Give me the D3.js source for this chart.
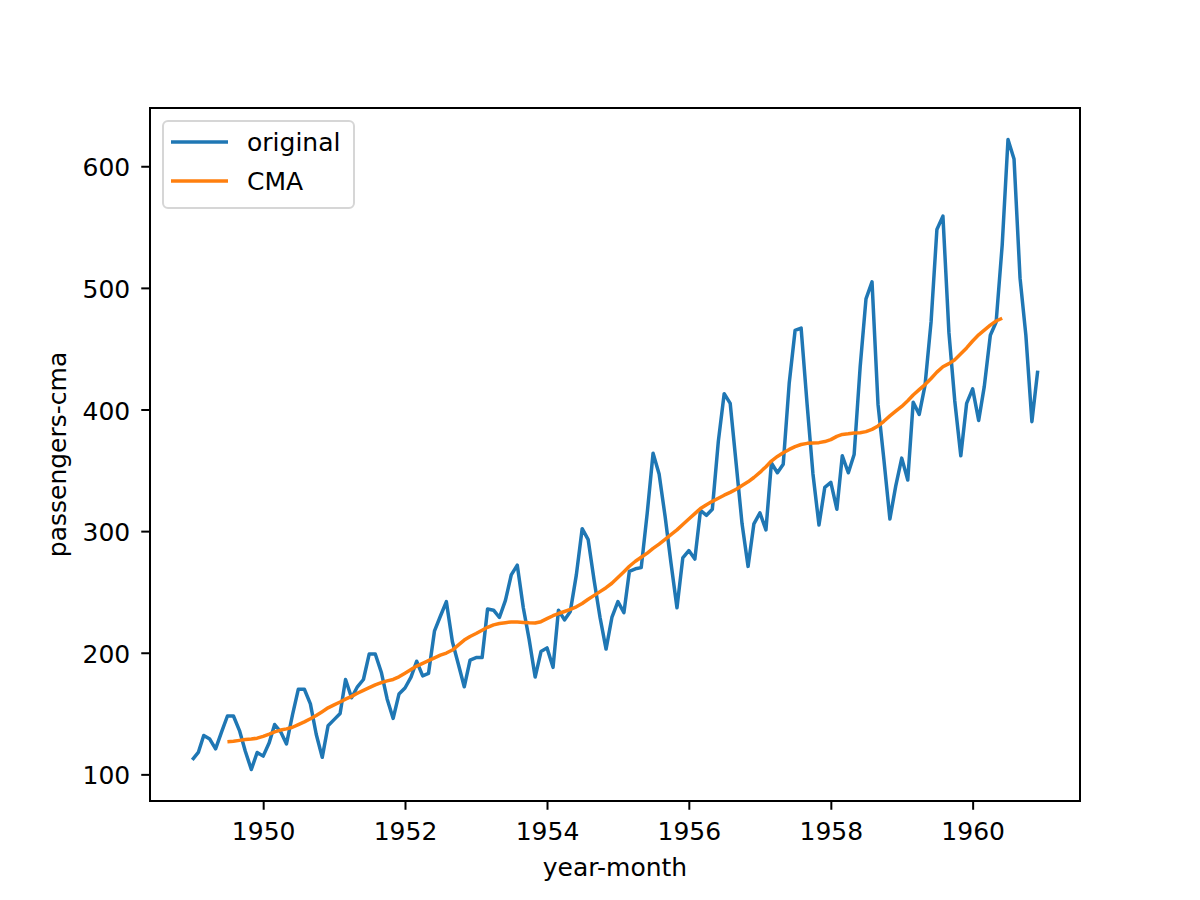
<!DOCTYPE html>
<html>
<head>
<meta charset="utf-8">
<script src="https://cdn.jsdelivr.net/npm/d3@7"></script>
<style>
body{margin:0;background:#fff;}
svg{display:block;font-family:"DejaVu Sans",sans-serif;}
</style>
</head>
<body>
<svg id="graph"></svg>
<script>
// monthly passengers, Jan 1949 .. Dec 1960
var original=[112,118,132,129,121,135,148,148,136,119,104,118,
115,126,141,135,125,149,170,170,158,133,114,140,
145,150,178,163,172,178,199,199,184,162,146,166,
171,180,193,181,183,218,230,242,209,191,172,194,
196,196,236,235,229,243,264,272,237,211,180,201,
204,188,235,227,234,264,302,293,259,229,203,229,
242,233,267,269,270,315,364,347,312,274,237,278,
284,277,317,313,318,374,413,405,355,306,271,306,
315,301,356,348,355,422,465,467,404,347,305,336,
340,318,362,348,363,435,491,505,404,359,310,337,
360,342,406,396,420,472,548,559,463,407,362,405,
417,391,419,461,472,535,622,606,508,461,390,432]

// centered moving average, Jul 1949 .. Jun 1960
var cma=[126.79,127.25,127.96,128.58,129.00,129.75,131.25,133.08,134.92,136.42,137.42,138.75,
140.92,143.17,145.71,148.42,151.54,154.71,157.13,159.54,161.83,164.13,166.67,169.08,
171.25,173.58,175.46,176.83,178.04,180.17,183.13,186.21,189.04,191.29,193.58,195.83,
198.04,199.75,202.21,206.25,210.42,213.38,215.83,218.50,220.92,222.92,224.08,224.71,
225.33,225.33,224.96,224.58,224.46,225.54,228.00,230.46,232.25,233.92,235.63,237.75,
240.50,243.96,247.17,250.25,253.50,257.13,261.83,266.67,271.13,275.21,278.50,281.96,
285.75,289.33,293.25,297.17,301.00,305.46,309.96,314.42,318.63,321.75,324.50,327.08,
329.54,331.83,334.46,337.54,340.54,344.08,348.25,353.00,357.63,361.38,364.50,367.17,
369.46,371.21,372.17,372.42,372.75,373.63,375.25,377.92,379.50,380.00,380.71,380.96,
381.83,383.67,386.50,390.33,394.71,398.63,402.54,407.17,411.88,416.33,420.50,425.50,
430.71,435.13,437.71,440.96,445.83,450.63,456.33,461.38,465.21,469.33,472.75,475.04]

var xTickYears=[1950,1952,1954,1956,1958,1960]
var yTicks=[100,200,300,400,500,600]
var seriesNames=["original","CMA"]
var seriesColors=["#1f77b4","#ff7f0e"]

var screen={width:1200,height:900}
var plot={left:150,right:1080,top:108,bottom:801}
var fontSize="25px"

var svg=d3.select("#graph")
.attr("width",screen.width)
.attr("height",screen.height)

var months=d3.timeMonth.range(new Date(1949,0,1),new Date(1961,0,1))
var cmaMonths=months.slice(6,6+cma.length)

var t0=months[0].getTime(), t1=months[months.length-1].getTime()
var xpad=(t1-t0)*0.05
var xScale=d3.scaleTime()
.domain([new Date(t0-xpad),new Date(t1+xpad)])
.range([plot.left,plot.right])

var ymin=d3.min(original), ymax=d3.max(original)
var ypad=(ymax-ymin)*0.05
var yScale=d3.scaleLinear()
.domain([ymin-ypad,ymax+ypad])
.range([plot.bottom,plot.top])

var line=d3.line()
.x(function(d){return xScale(d[0])})
.y(function(d){return yScale(d[1])})

svg.append("path")
.datum(months.map(function(m,i){return [m,original[i]]}))
.attr("d",line)
.attr("fill","none")
.attr("stroke",seriesColors[0])
.attr("stroke-width",3.5)
.attr("stroke-linejoin","round")

svg.append("path")
.datum(cmaMonths.map(function(m,i){return [m,cma[i]]}))
.attr("d",line)
.attr("fill","none")
.attr("stroke",seriesColors[1])
.attr("stroke-width",3.5)
.attr("stroke-linejoin","round")

// axes
var xAxis=d3.axisBottom(xScale)
.tickValues(xTickYears.map(function(y){return new Date(y,0,1)}))
.tickFormat(d3.timeFormat("%Y"))
.tickSize(8.75).tickPadding(12.5)
var yAxis=d3.axisLeft(yScale)
.tickValues(yTicks)
.tickSize(8.75).tickPadding(11)

var gx=svg.append("g").attr("transform","translate(0,"+plot.bottom+")").call(xAxis)
var gy=svg.append("g").attr("transform","translate("+plot.left+",0)").call(yAxis)
;[gx,gy].forEach(function(g){
  g.select(".domain").remove()
  g.selectAll("line").attr("stroke","#000").attr("stroke-width",2)
  g.selectAll("text").attr("fill","#000").style("font-size",fontSize).style("font-family","DejaVu Sans")
})
gy.selectAll("text").attr("dy","0.38em")

svg.append("rect")
.attr("x",plot.left).attr("y",plot.top)
.attr("width",plot.right-plot.left).attr("height",plot.bottom-plot.top)
.attr("fill","none").attr("stroke","#000").attr("stroke-width",2)

svg.append("text")
.attr("x",(plot.left+plot.right)/2).attr("y",876)
.attr("text-anchor","middle")
.style("font-size",fontSize)
.text("year-month")

svg.append("text")
.attr("transform","translate(66,"+((plot.top+plot.bottom)/2)+") rotate(-90)")
.attr("text-anchor","middle")
.style("font-size",fontSize)
.text("passengers-cma")

// legend
var legend=svg.append("g")
legend.append("rect")
.attr("x",163).attr("y",121).attr("width",191).attr("height",87)
.attr("rx",5).attr("fill","#fff").attr("fill-opacity",0.8)
.attr("stroke","#d6d6d6").attr("stroke-width",2)

seriesNames.forEach(function(name,i){
  var y=142+i*39
  legend.append("line")
  .attr("x1",171).attr("x2",228).attr("y1",y).attr("y2",y)
  .attr("stroke",seriesColors[i]).attr("stroke-width",3.5)
  legend.append("text")
  .attr("x",247).attr("y",y).attr("dy","0.36em")
  .style("font-size",fontSize)
  .text(name)
})
</script>
</body>
</html>
